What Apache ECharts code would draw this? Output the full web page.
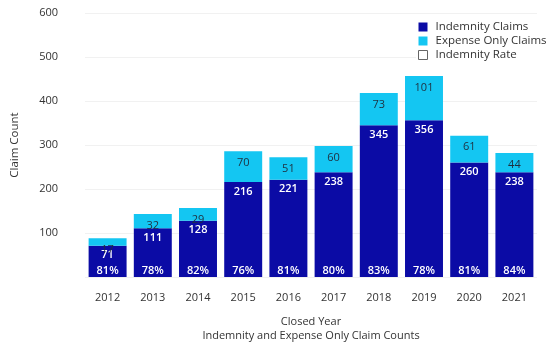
<!DOCTYPE html>
<html>
<head>
<meta charset="utf-8">
<style>
  html, body { margin: 0; padding: 0; background: #fff; }
  #chart { width: 547px; height: 343px; }
</style>
<script src="https://cdn.jsdelivr.net/npm/echarts@6/dist/echarts.min.js"></script>
</head>
<body>
<div id="chart"></div>
<script>
// Closed years and claim counts
const years = ['2012', '2013', '2014', '2015', '2016', '2017', '2018', '2019', '2020', '2021'];
const indemnityClaims = [71, 111, 128, 216, 221, 238, 345, 356, 260, 238];
const expenseOnlyClaims = [17, 32, 29, 70, 51, 60, 73, 101, 61, 44];
const indemnityRate = [81, 78, 82, 76, 81, 80, 83, 78, 81, 84];
const countTicks = { min: 0, max: 600, interval: 100 };

const FONT = '"Open Sans", "Noto Sans", sans-serif';
const DARK_BLUE = '#0b0ba5';
const CYAN = '#14c6f2';

const chart = echarts.init(document.getElementById('chart'), null, { renderer: 'canvas' });

chart.setOption({
  animation: false,
  textStyle: { fontFamily: FONT },
  grid: { left: 85, right: 10, top: 13, bottom: 66, outerBoundsMode: 'none', containLabel: false },
  legend: {
    orient: 'vertical',
    left: 416,
    top: 19,
    padding: [2, 4, 2, 2],
    backgroundColor: '#fff',
    itemWidth: 9,
    itemHeight: 9,
    itemGap: 2,
    icon: 'rect',
    textStyle: { fontFamily: FONT, fontSize: 11.5, lineHeight: 12, color: '#333', padding: [0, 0, 0, 3] },
    data: [
      { name: 'Indemnity Claims' },
      { name: 'Expense Only Claims' },
      { name: 'Indemnity Rate', itemStyle: { color: '#fff', borderColor: '#666', borderWidth: 1 } }
    ]
  },
  xAxis: {
    type: 'category',
    data: years,
    axisLine: { show: false },
    axisTick: { show: false },
    axisLabel: { color: '#333', fontSize: 11, margin: 15, fontFamily: FONT },
    name: 'Closed Year\nIndemnity and Expense Only Claim Counts',
    nameLocation: 'middle',
    nameGap: 38,
    nameTextStyle: { color: '#333', fontSize: 11, lineHeight: 14, fontFamily: FONT }
  },
  yAxis: [
    {
      type: 'value',
      min: countTicks.min,
      max: countTicks.max,
      interval: countTicks.interval,
      axisLine: { show: false },
      axisTick: { show: false },
      axisLabel: { color: '#333', fontSize: 11, margin: 27, showMinLabel: false, fontFamily: FONT },
      splitLine: { lineStyle: { color: '#f1f1f1', width: 1 } },
      name: 'Claim Count',
      nameLocation: 'middle',
      nameGap: 64,
      nameTextStyle: { color: '#333', fontSize: 11.5, fontFamily: FONT }
    },
    { type: 'value', min: 0, max: 100, show: false }
  ],
  series: [
    {
      name: 'Indemnity Claims',
      type: 'bar',
      stack: 'claims',
      barCategoryGap: '16%',
      data: indemnityClaims,
      itemStyle: { color: DARK_BLUE },
      label: {
        show: true,
        position: 'insideTop',
        distance: 4,
        color: '#fff',
        fontSize: 11,
        fontWeight: 600,
        fontFamily: FONT
      }
    },
    {
      name: 'Expense Only Claims',
      type: 'bar',
      stack: 'claims',
      data: expenseOnlyClaims,
      itemStyle: { color: CYAN },
      label: {
        show: true,
        position: 'insideTop',
        distance: 6,
        color: '#1f2f3f',
        fontSize: 11,
        fontFamily: FONT
      }
    },
    {
      name: 'Indemnity Rate',
      type: 'bar',
      yAxisIndex: 1,
      barGap: '-100%',
      data: indemnityRate,
      itemStyle: { color: 'rgba(0,0,0,0)' },
      label: {
        show: true,
        position: 'insideBottom',
        distance: 1,
        formatter: '{c}%',
        color: '#fff',
        fontSize: 11,
        fontWeight: 600,
        fontFamily: FONT
      },
      z: 5
    }
  ]
});
</script>
</body>
</html>
